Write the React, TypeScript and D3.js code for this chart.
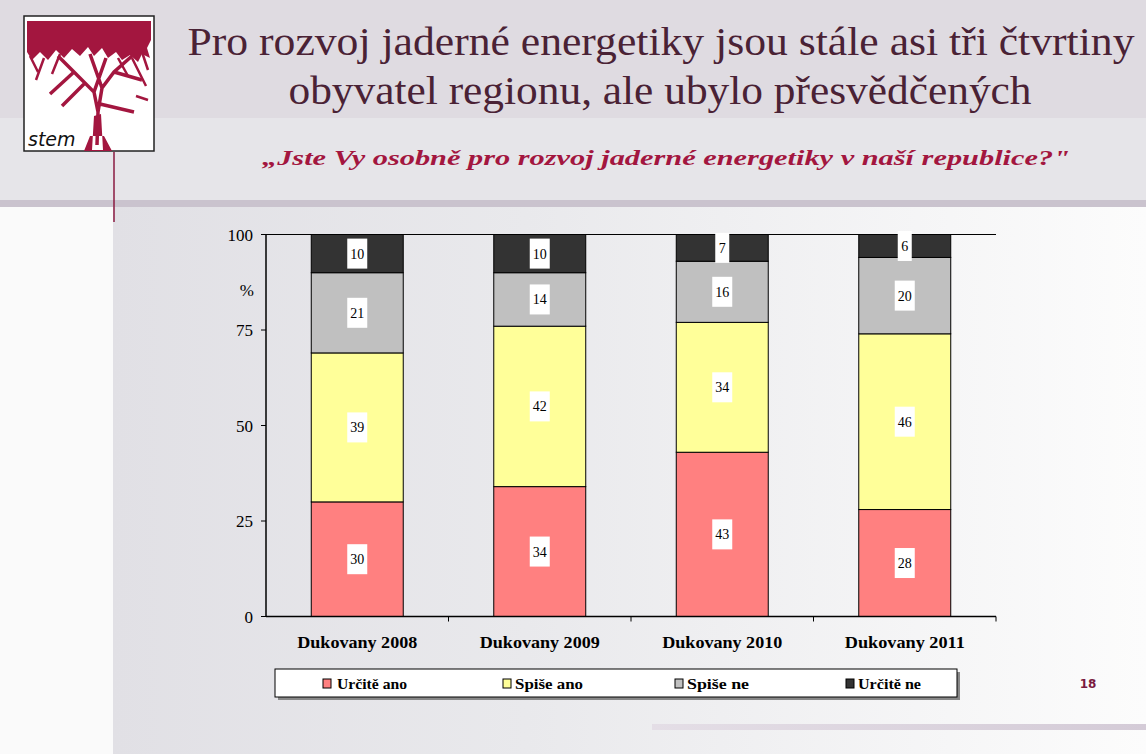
import React from "react";
import * as d3 from "d3";

const categories = ["Dukovany 2008", "Dukovany 2009", "Dukovany 2010", "Dukovany 2011"];
const seriesNames = ["Určitě ano", "Spiše ano", "Spiše ne", "Určitě ne"];
const urciteAno = [30, 34, 43, 28];
const spiseAno = [39, 42, 34, 46];
const spiseNe = [21, 14, 16, 20];
const urciteNe = [10, 10, 7, 6];
const yTicks = [0, 25, 50, 75, 100];
const colors = ["#ff8080", "#ffff99", "#c0c0c0", "#333333"];

const title1 = "Pro rozvoj jaderné energetiky jsou stále asi tři čtvrtiny";
const title2 = "obyvatel regionu, ale ubylo přesvědčených";
const subtitle = "„Jste Vy osobně pro rozvoj jaderné energetiky v naší republice?\"";

const W = 1146, H = 754;
const serif = "'Times New Roman', 'Liberation Serif', Times, serif";

export default function App() {
  const rows = categories.map((c, i) => ({
    cat: c,
    [seriesNames[0]]: urciteAno[i],
    [seriesNames[1]]: spiseAno[i],
    [seriesNames[2]]: spiseNe[i],
    [seriesNames[3]]: urciteNe[i],
  }));
  const stack = d3.stack<any>().keys(seriesNames)(rows);
  const x = d3.scaleBand().domain(categories).range([266, 996]).paddingInner(0.496).paddingOuter(0.248);
  const y = d3.scaleLinear().domain([0, 100]).range([616.5, 234.5]);
  const axisX = 266;
  const bw = x.bandwidth();
  const step = x.step();

  const legendSq = [323, 503, 675, 846];
  const legendTx = [337, 515, 687, 858];
  const legendW = [70, 68, 62, 63];

  return (
    <svg width={W} height={H} style={{ position: "absolute", left: 0, top: 0, display: "block" }}>
      <defs>
        <linearGradient id="bg" x1="0" x2="1" y1="0" y2="0">
          <stop offset="0" stopColor="#e1e0e5" />
          <stop offset="0.4" stopColor="#e9e9ec" />
          <stop offset="1" stopColor="#fcfcfc" />
        </linearGradient>
        <linearGradient id="bar2" x1="0" x2="1" y1="0" y2="0">
          <stop offset="0" stopColor="#e4dee6" />
          <stop offset="1" stopColor="#d4cbd7" />
        </linearGradient>
      </defs>
      <rect x={0} y={0} width={W} height={H} fill="#ffffff" />
      {/* header */}
      <rect x={0} y={0} width={W} height={118} fill="#dfdbe1" />
      <rect x={0} y={118} width={W} height={83} fill="#e6e5e9" />
      <rect x={0} y={200} width={W} height={7} fill="#cac3ce" />
      {/* body */}
      <rect x={113} y={207} width={W - 113} height={H - 207} fill="url(#bg)" />
      <rect x={0} y={207} width={113} height={H - 207} fill="#fafafa" />
      <line x1={114} x2={114} y1={152} y2={222} stroke="#8a1a40" strokeWidth={1.5} />
      <rect x={652} y={724} width={W - 652} height={6} fill="url(#bar2)" />
      <text x={1088} y={688} textAnchor="middle" fontFamily="'DejaVu Sans', sans-serif" fontWeight="bold" fontSize={12} fill="#7a1a40">18</text>

      {/* logo */}
      <g>
        <rect x={24} y={16} width={130} height={135} fill="#ffffff" stroke="#222" strokeWidth={1.5} />
        <path d="M27,21 L151,21 L151,40 L147,48 L150,58 L142,54 L138,62 L130,55 L122,60 L116,52 L108,58 L102,48 L94,56 L88,47 L80,56 L72,49 L64,58 L56,50 L48,60 L40,52 L32,60 L27,52 Z" fill="#a3163f" />
        <path d="M30,56 L38,72 M44,58 L36,80 M60,54 L52,74 M142,52 L148,70 M132,58 L146,86 M118,58 L128,76 M136,96 L148,100" stroke="#a3163f" strokeWidth={2.5} fill="none" />
        <path d="M97,145 L98,112 L94,92 L74,72 L58,56 M98,112 L102,88 L114,72 L132,56 M102,88 L90,54 M94,92 L106,58 M100,104 L134,112 M114,72 L142,80 M74,72 L50,94 M86,82 L62,106" stroke="#a3163f" strokeWidth={3.5} fill="none" />
        <path d="M92,150 L94,116 L101,114 L103,150 Z M84,151 L112,151 L104,136 L90,136 Z" fill="#a3163f" />
        <text x={28} y={146} fontFamily="'DejaVu Sans', sans-serif" fontStyle="italic" fontSize={19} fill="#111">stem</text>
      </g>

      {/* titles */}
      <text x={661} y={55} textAnchor="middle" fontFamily={serif} fontSize={40} fill="#4a2235" textLength={947} lengthAdjust="spacingAndGlyphs">{title1}</text>
      <text x={660} y={104} textAnchor="middle" fontFamily={serif} fontSize={40} fill="#4a2235" textLength={743} lengthAdjust="spacingAndGlyphs">{title2}</text>
      <text x={666} y={165} textAnchor="middle" fontFamily={serif} fontStyle="italic" fontWeight="bold" fontSize={22} fill="#a3163f" textLength={808} lengthAdjust="spacingAndGlyphs">{subtitle}</text>

      {/* chart */}
      <line x1={axisX} x2={996} y1={y(100)} y2={y(100)} stroke="#000" strokeWidth={1} />
      {stack.map((s, si) => (
        <g key={si}>
          {s.map((d, i) => (
            <rect key={i} x={x(categories[i])!} y={y(d[1])} width={bw} height={y(d[0]) - y(d[1])} fill={colors[si]} stroke="#000" strokeWidth={1} />
          ))}
        </g>
      ))}
      {stack.map((s, si) => (
        <g key={"l" + si}>
          {s.map((d, i) => {
            const v = d[1] - d[0];
            const cx = x(categories[i])! + bw / 2;
            const cy = (y(d[0]) + y(d[1])) / 2;
            const w = String(v).length > 1 ? 20 : 14;
            return (
              <g key={i}>
                <rect x={cx - w / 2} y={cy - 15} width={w} height={30} fill="#fff" />
                <text x={cx} y={cy + 5} textAnchor="middle" fontFamily={serif} fontSize={14} fill="#000">{v}</text>
              </g>
            );
          })}
        </g>
      ))}
      <line x1={axisX} x2={axisX} y1={y(100)} y2={y(0)} stroke="#000" strokeWidth={1.5} />
      <line x1={axisX} x2={996} y1={y(0)} y2={y(0)} stroke="#000" strokeWidth={1.5} />
      {yTicks.map((t) => (
        <g key={t}>
          <line x1={axisX - 5} x2={axisX} y1={y(t)} y2={y(t)} stroke="#000" />
          <text x={253} y={y(t) + 6} textAnchor="end" fontFamily={serif} fontSize={17} fill="#000">{t}</text>
        </g>
      ))}
      <text x={254} y={296} textAnchor="end" fontFamily={serif} fontSize={17} fill="#000">%</text>
      {categories.map((c, i) => (
        <g key={c}>
          {i > 0 && <line x1={x(c)! - (step - bw) / 2} x2={x(c)! - (step - bw) / 2} y1={y(0)} y2={y(0) + 5} stroke="#000" />}
          <text x={x(c)! + bw / 2} y={648} textAnchor="middle" fontFamily={serif} fontWeight="bold" fontSize={16} fill="#000" textLength={120} lengthAdjust="spacingAndGlyphs">{c}</text>
        </g>
      ))}
      <line x1={996} x2={996} y1={y(0)} y2={y(0) + 5} stroke="#000" />

      {/* legend */}
      <rect x={278} y={672} width={682} height={28} fill="#888" />
      <rect x={275} y={669} width={682} height={28} fill="#fff" stroke="#000" strokeWidth={1} />
      {seriesNames.map((n, i) => (
        <g key={n}>
          <rect x={legendSq[i]} y={679} width={8} height={9} fill={colors[i]} stroke="#000" strokeWidth={1} />
          <text x={legendTx[i]} y={689} fontFamily={serif} fontWeight="bold" fontSize={14} fill="#000" textLength={legendW[i]} lengthAdjust="spacingAndGlyphs">{n}</text>
        </g>
      ))}
    </svg>
  );
}
